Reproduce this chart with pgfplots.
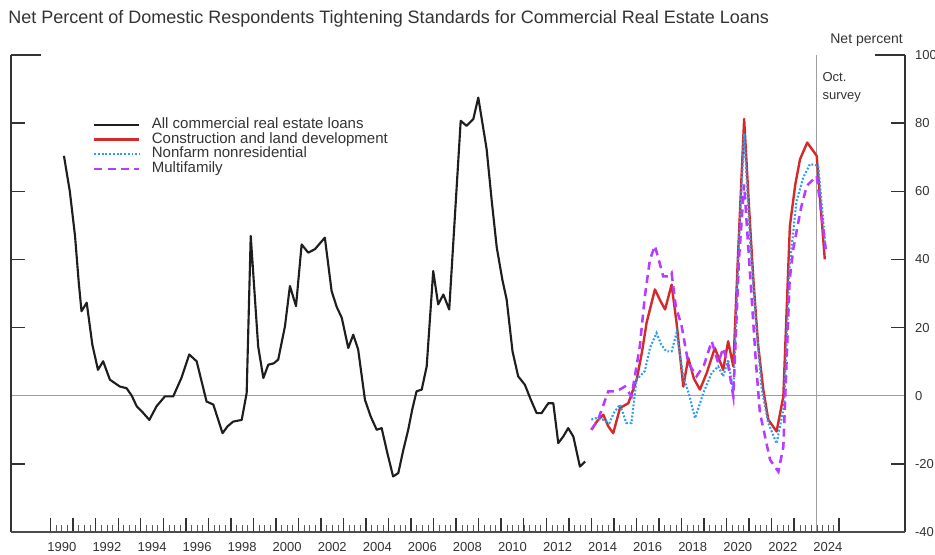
\documentclass[border=0pt]{standalone}
\usepackage{fontspec}
\setmainfont{Liberation Sans}
\usepackage{pgfplots}
\usepackage{pgfplotstable}
\pgfplotsset{compat=1.18}

\definecolor{axgray}{HTML}{333333}
\definecolor{allcre}{HTML}{1E1E1E}
\definecolor{constr}{HTML}{D42A2A}
\definecolor{nonfarm}{HTML}{2A9DF4}
\definecolor{multi}{HTML}{B93BFF}

% all commercial real estate loans (decimal year, net percent)
\pgfplotstableread{
t v
1990.59 70.4
1990.85 60
1991.08 47
1991.25 33
1991.37 24.8
1991.60 27.3
1991.85 15
1992.10 7.6
1992.33 10.1
1992.63 4.7
1993.07 2.7
1993.37 2.2
1993.60 0
1993.82 -3.1
1994.10 -5
1994.38 -7.1
1994.70 -3.1
1995.07 -0.2
1995.44 -0.2
1995.81 5.3
1996.15 12.1
1996.48 10.1
1996.92 -1.7
1997.22 -2.6
1997.63 -11
1997.85 -9
1998.10 -7.6
1998.48 -7.1
1998.70 0.8
1998.88 46.9
1999.21 14.5
1999.44 5.2
1999.66 9.1
1999.90 9.5
2000.10 10.6
2000.40 20.4
2000.62 32.2
2000.89 26.3
2001.14 44.4
2001.43 42
2001.73 43
2002.17 46.4
2002.47 30.7
2002.70 26
2002.92 22.9
2003.21 14
2003.43 17.9
2003.65 13.5
2003.95 -1.2
2004.20 -6
2004.47 -10
2004.69 -9.5
2004.95 -17
2005.20 -23.7
2005.43 -22.7
2005.65 -16
2005.87 -10
2006.05 -4
2006.24 1.3
2006.47 1.8
2006.69 8.6
2006.98 36.6
2007.20 26.8
2007.43 29.7
2007.69 25.3
2008.20 80.7
2008.46 79.2
2008.76 81.2
2008.98 87.5
2009.35 72.4
2009.58 57
2009.80 43.5
2010.05 34
2010.24 28.2
2010.50 13
2010.75 5.7
2011.05 3.2
2011.30 -1
2011.57 -5.1
2011.79 -5.1
2012.09 -2.2
2012.31 -2.2
2012.53 -13.9
2012.75 -12
2012.97 -9.5
2013.20 -12
2013.49 -20.8
2013.72 -19.3
}\allcre

\pgfplotstableread{
t v
2014.00 -10
2014.25 -7.5
2014.53 -5.6
2014.75 -9
2014.97 -11
2015.27 -3.6
2015.64 -2.2
2016.01 4.7
2016.25 13
2016.45 21.4
2016.82 31.2
2017.05 28
2017.27 25.3
2017.56 32.6
2017.78 21.4
2018.08 2.7
2018.30 11.1
2018.55 5
2018.82 1.8
2019.12 6.7
2019.48 14
2019.85 7.6
2020.07 16
2020.30 8.6
2020.50 40
2020.78 81.2
2021.00 55
2021.19 34
2021.40 15
2021.63 1.8
2021.85 -7
2022.22 -10.5
2022.52 -0.2
2022.81 49.8
2023.05 62
2023.26 69.4
2023.58 74.3
2024.00 70.4
2024.36 40
}\constr

\pgfplotstableread{
t v
2014.00 -7
2014.25 -6.5
2014.50 -7
2014.80 -8
2015.00 -5
2015.27 -2.6
2015.55 -8
2015.78 -8
2016.00 4.7
2016.37 7.2
2016.60 14
2016.89 18.4
2017.10 15
2017.33 13
2017.56 13
2017.78 18.4
2018.08 5.7
2018.35 0
2018.60 -6.6
2018.97 0.8
2019.34 6.7
2019.63 8.6
2019.85 5.7
2020.07 10.6
2020.30 1
2020.55 45
2020.78 77
2021.05 45
2021.30 22
2021.56 2
2021.85 -8
2022.22 -14
2022.55 -3
2022.80 38
2023.10 57
2023.40 64
2023.70 68
2024.07 67.5
2024.40 43
}\nonfarm

\pgfplotstableread{
t v
2014.00 -10
2014.30 -7
2014.75 1.3
2015.12 1.3
2015.49 2.7
2015.78 -0.2
2016.15 14.5
2016.37 29
2016.60 40
2016.82 44
2017.19 35
2017.45 35
2017.56 36
2017.75 26
2017.99 21
2018.30 9.6
2018.67 5.7
2019.00 9
2019.34 16
2019.63 9.6
2019.85 14
2020.07 9
2020.30 -0.2
2020.55 40
2020.78 62
2021.05 35
2021.30 10
2021.48 -5
2021.93 -18.8
2022.30 -22.3
2022.52 -15
2022.80 34
2022.96 43
2023.30 55
2023.56 61.6
2024.00 64.5
2024.40 43
}\multi

\begin{document}
\begin{tikzpicture}
\useasboundingbox (-8.25pt,-16.5pt) rectangle (693pt,399pt);
\begin{axis}[
    scale only axis,
    width=670.5pt, height=357.75pt,
    at={(0pt,0pt)}, anchor=south west,
    xmin=1988.24, xmax=2027.92,
    ymin=-40, ymax=100,
    clip=false,
    axis line style={draw=none},
    xtick={1990,...,2025},
    xticklabels={1990,,1992,,1994,,1996,,1998,,2000,,2002,,2004,,2006,,2008,,2010,,2012,,2014,,2016,,2018,,2020,,2022,,2024,},
    minor xtick={1990.25,1990.5,...,2024.8},
    xtick pos=left,
    ytick={-40,-20,...,100},
    ytick pos=both,
    yticklabel pos=right,
    major tick length=10.5pt,
    minor tick length=5.25pt,
    tick style={axgray, line width=1.1pt},
    minor tick style={axgray!80, line width=0.7pt},
    tick label style={font=\fontsize{9.75}{10}\selectfont, text=axgray},
    xticklabel style={xshift=8.45pt, yshift=-4.5pt},
    yticklabel style={xshift=4pt},
    /pgf/number format/assume math mode=true,
    legend cell align=left,
    legend style={draw=none, fill=none, at={(rel axis cs:0.0917,0.869)}, anchor=north west,
        inner sep=0pt, outer sep=0pt, row sep=0pt,
        font=\fontsize{11.25}{11}\selectfont, text=axgray,
        nodes={inner sep=0pt, text height=8.2pt, text depth=2.8pt},
        /tikz/every odd column/.append style={column sep=8.5pt}},
    legend image code/.code={\draw[#1] (0pt,0pt) -- (33.75pt,0pt);},
]
\draw[gray!75, line width=0.7pt] (rel axis cs:0,0.285714) -- (rel axis cs:1,0.285714);
\draw[gray!75, line width=0.7pt] (axis cs:2024.0,-40) -- (axis cs:2024.0,100);

\addplot[allcre, line width=1.6pt, line join=round] table[x=t, y=v] {\allcre};
\addlegendentry{All commercial real estate loans}
\addplot[constr, line width=1.8pt, line join=round] table[x=t, y=v] {\constr};
\addlegendentry{Construction and land development}
\addplot[nonfarm, line width=1.6pt, dash pattern=on 1.4pt off 1.4pt] table[x=t, y=v] {\nonfarm};
\addlegendentry{Nonfarm nonresidential}
\addplot[multi, line width=1.9pt, dash pattern=on 6pt off 4pt] table[x=t, y=v] {\multi};
\addlegendentry{Multifamily}

\draw[axgray, line width=1.5pt] (rel axis cs:0,1) -- (rel axis cs:0,0);
\draw[axgray, line width=1.5pt] (rel axis cs:1,1) -- (rel axis cs:1,0);
\draw[gray!60!black, line width=2.2pt] (rel axis cs:0,0) -- (rel axis cs:1,0);
\draw[axgray, line width=1.5pt] (rel axis cs:0,1) -- ++(22.5pt,0pt);
\draw[axgray, line width=1.5pt] (rel axis cs:1,1) -- ++(-22.5pt,0pt);

\node[anchor=north west, align=left, inner sep=0pt, text=axgray,
      font=\fontsize{9.75}{13.5}\selectfont] at (axis cs:2024.25,95) {Oct.\\survey};
\end{axis}

\node[anchor=base west, inner sep=0pt, text=axgray, font=\fontsize{13.5}{14}\selectfont]
    at (-2.25pt,381pt) {Net Percent of Domestic Respondents Tightening Standards for Commercial Real Estate Loans};
\node[anchor=base east, inner sep=0pt, text=axgray, font=\fontsize{10.5}{11}\selectfont]
    at (669pt,366pt) {Net percent};
\end{tikzpicture}
\end{document}
